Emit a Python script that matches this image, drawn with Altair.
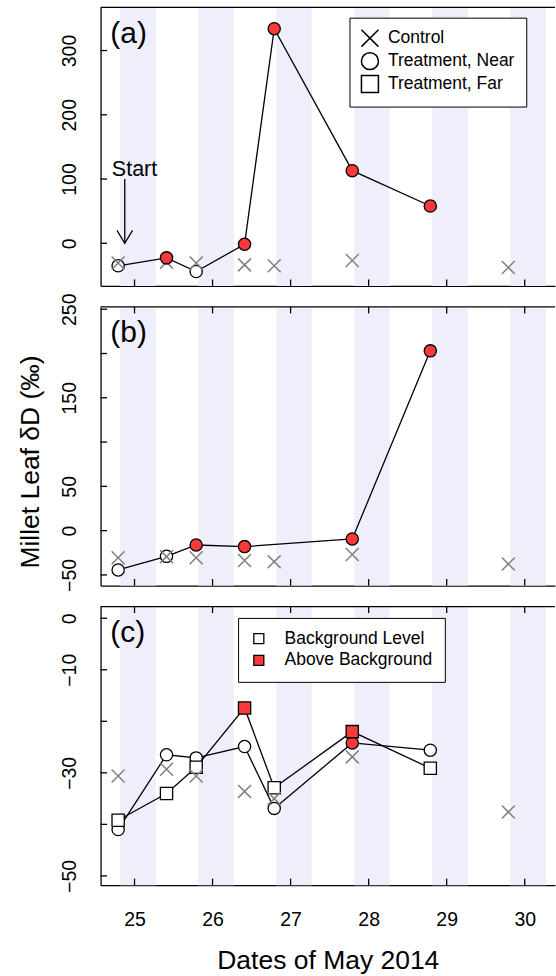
import altair as alt
import pandas as pd

# ---------------- data ----------------
days = [25, 26, 27, 28, 29, 30]
night_start = [24.815, 25.815, 26.815, 27.815, 28.815, 29.815]
night_end = [25.272, 26.272, 27.272, 28.272, 29.272, 30.272]

control_t = [24.79, 25.41, 25.79, 26.41, 26.79, 27.79, 29.79]
control_dD = [-30.6, -29.3, -30.6, -33.6, -35.0, -26.9, -37.6]

a_t = [24.79, 25.41, 25.79, 26.41, 26.79, 27.79, 28.79]
a_near = [-35.0, -22.7, -44.0, -1.5, 334.0, 113.0, 58.0]
a_near_above = [0, 1, 0, 1, 1, 1, 1]

b_t = [24.79, 25.41, 25.79, 26.41, 27.79, 28.79]
b_near = [-44.4, -29.0, -16.2, -18.0, -9.4, 203.0]
b_near_above = [0, 0, 1, 1, 1, 1]

c_t = [24.79, 25.41, 25.79, 26.41, 26.79, 27.79, 28.79]
c_near = [-41.0, -26.5, -27.1, -24.9, -36.9, -24.2, -25.6]
c_near_above = [0, 0, 0, 0, 0, 1, 0]
c_far = [-39.2, -34.0, -28.9, -17.4, -32.9, -22.0, -29.1]
c_far_above = [0, 0, 0, 1, 0, 1, 0]

series_names = ["Control", "Treatment, Near", "Treatment, Far"]
level_names = ["Background Level", "Above Background"]
panel_labels = ["(a)", "(b)", "(c)"]

a_yticks = [0, 100, 200, 300]
b_yticks = [-50, 0, 50, 100, 150, 200, 250]
b_yskip = [100, 200]
c_yticks = [0, -10, -20, -30, -40, -50]
c_yskip = [-20, -40]

start_text = ["Start"]
start_t = [25.0]
start_y = [104.6]
arrow_t = [24.875]
arrow_top = [100.0]
arrow_tip = [0.0]

x_title = "Dates of May 2014"
y_title = "Millet Leaf δD (‰)"

# ---------------- style ----------------
FONT = "Liberation Sans"
W, H = 455, 279
XDOM = [24.565, 30.388]
A_YDOM = [-66.4, 367.3]
B_YDOM = [-62.0, 252.6]
C_YDOM = [-51.8, 2.27]
XPATH = "M-1,-1L1,1M1,-1L-1,1"
ARROWHEAD = "M-0.6,-1L0,0L0.6,-1"
RED = "#F83A3A"
BAND = "#EFEFFC"
GRAY = "#808080"
LW = 1.3

bands_df = pd.DataFrame({"start": night_start, "end": night_end})
days_df = pd.DataFrame({"d": days})
ctrl_df = pd.DataFrame({"t": control_t, "dD": control_dD, "series": "Control"})
frame_df = pd.DataFrame({"k": [0]})


def pts(t, v, above, series):
    return pd.DataFrame({
        "t": t, "dD": v, "series": series,
        "level": [level_names[k] for k in above],
    })


a_df = pts(a_t, a_near, a_near_above, "Treatment, Near")
b_df = pts(b_t, b_near, b_near_above, "Treatment, Near")
c_df = pd.concat([
    pts(c_t, c_near, c_near_above, "Treatment, Near"),
    pts(c_t, c_far, c_far_above, "Treatment, Far"),
])

shape_scale = alt.Scale(domain=series_names, range=[XPATH, "circle", "square"])
fill_scale = alt.Scale(domain=level_names, range=["white", RED])


def make_panel(idx, ydom, yticks, yskip, df, bottom_labels, top_ticks,
               ytitle, shape_legend, fill_legend, extras):
    xs = alt.Scale(domain=XDOM, nice=False, zero=False)
    ys = alt.Scale(domain=ydom, nice=False, zero=False)

    skip = "[" + ",".join(str(s) for s in yskip) + "]"
    yaxis_kw = dict(
        values=yticks, format="d",
        labelExpr=f"indexof({skip}, datum.value) >= 0 ? '' : datum.label",
        labelAngle=270, labelAlign="center", labelBaseline="alphabetic",
        labelPadding=25, labelFontSize=19.5, labelFont=FONT, labelColor="black",
        ticks=False, tickSize=0, domain=True, domainColor="black", domainWidth=LW,
        grid=False, labelOverlap=False,
    )
    if ytitle:
        yaxis_kw.update(title=ytitle, titleFont=FONT, titleFontSize=26.5,
                        titleFontWeight="normal", titleColor="black",
                        titleAngle=270, titleAlign="center",
                        titleBaseline="alphabetic", titleX=-62.6, titleY=154.8)
    else:
        yaxis_kw.update(title=None)
    yaxis = alt.Axis(**yaxis_kw)

    if bottom_labels:
        xaxis = alt.Axis(
            values=days, format="d", labelFontSize=19.5, labelFont=FONT,
            labelColor="black", labelBaseline="alphabetic", labelPadding=40,
            labelFlush=False, labelOverlap=False,
            ticks=False, tickSize=0, domain=True, domainColor="black",
            domainWidth=LW, grid=False,
            title=x_title, titleFont=FONT, titleFontSize=26.5,
            titleFontWeight="normal", titleColor="black",
            titleBaseline="alphabetic", titleY=83)
    else:
        xaxis = alt.Axis(values=days, labels=False, ticks=False, tickSize=0,
                         domain=True, domainColor="black", domainWidth=LW,
                         grid=False, title=None)

    X = lambda f: alt.X(f, scale=xs, axis=xaxis)
    Y = lambda f: alt.Y(f, scale=ys, axis=yaxis)

    bands = alt.Chart(bands_df).mark_rect(color=BAND, strokeWidth=0).encode(
        x=X("start:Q"), x2="end:Q", y=alt.value(0), y2=alt.value(H))

    ctrl = alt.Chart(ctrl_df).mark_point(
        shape=XPATH, size=169, stroke=GRAY, strokeWidth=1.5, filled=False,
        opacity=1).encode(x=X("t:Q"), y=Y("dD:Q"))

    lines = alt.Chart(df).mark_line(color="black", strokeWidth=LW).encode(
        x=X("t:Q"), y=Y("dD:Q"), detail="series:N")

    def markers(level):
        return alt.Chart(df).transform_filter(
            f"datum.level == '{level}'"
        ).mark_point(size=150, stroke="black", strokeWidth=LW, filled=True,
                     opacity=1, fillOpacity=1).encode(
            x=X("t:Q"), y=Y("dD:Q"),
            shape=alt.Shape("series:N", scale=shape_scale, legend=shape_legend),
            fill=alt.Fill("level:N", scale=fill_scale, legend=fill_legend),
        )

    ytick = alt.Chart(pd.DataFrame({"v": yticks})).mark_rule(
        color="black", strokeWidth=LW).encode(
        y=Y("v:Q"), x=alt.value(0), x2=alt.value(6.5))
    xtick_bottom = alt.Chart(days_df).mark_rule(
        color="black", strokeWidth=LW).encode(
        x=X("d:Q"), y=alt.value(H), y2=alt.value(H - 6.5))
    top_frame = alt.Chart(frame_df).mark_rule(
        color="black", strokeWidth=LW).encode(
        x=alt.value(0), x2=alt.value(W), y=alt.value(0))
    label = alt.Chart(pd.DataFrame({"s": [panel_labels[idx]]})).mark_text(
        font=FONT, fontSize=30, color="black", align="left",
        baseline="alphabetic").encode(
        x=alt.value(9.7), y=alt.value(35.5), text="s:N")

    layers = [bands, lines, markers(level_names[0]), ctrl,
              markers(level_names[1])]
    layers += [e(X, Y) for e in extras]
    layers += [ytick, xtick_bottom, top_frame, label]
    if top_ticks:
        layers.append(alt.Chart(days_df).mark_rule(
            color="black", strokeWidth=LW).encode(
            x=X("d:Q"), y=alt.value(0), y2=alt.value(6.5)))

    return alt.layer(*layers).properties(width=W, height=H)


def start_label(X, Y):
    return alt.Chart(pd.DataFrame({"t": start_t, "y": start_y, "s": start_text})).mark_text(
        font=FONT, fontSize=21.5, color="black", align="center",
        baseline="alphabetic").encode(x=X("t:Q"), y=Y("y:Q"), text="s:N")


def arrow_shaft(X, Y):
    return alt.Chart(pd.DataFrame({"t": arrow_t, "y1": arrow_top, "y2": arrow_tip})).mark_rule(
        color="black", strokeWidth=LW).encode(x=X("t:Q"), y=Y("y1:Q"), y2="y2:Q")


def arrow_head(X, Y):
    return alt.Chart(pd.DataFrame({"t": arrow_t, "y": arrow_tip})).mark_point(
        shape=ARROWHEAD, size=676, stroke="black", strokeWidth=LW, filled=False,
        opacity=1).encode(x=X("t:Q"), y=Y("y:Q"))


legend_a = alt.Legend(
    title=None, orient="none", legendX=249.2, legendY=10.4, direction="vertical",
    fillColor="white", strokeColor="black", padding=11, rowPadding=0,
    labelFont=FONT, labelFontSize=17.5, labelColor="black", labelOffset=8.5,
    labelLimit=400, symbolSize=289, symbolStrokeWidth=1.5,
    symbolStrokeColor="black", symbolFillColor="white")

legend_c = alt.Legend(
    title=None, orient="none", legendX=137.7, legendY=11.4, direction="vertical",
    fillColor="white", strokeColor="black", padding=12, rowPadding=2.8,
    labelFont=FONT, labelFontSize=17.5, labelColor="black", labelOffset=17,
    labelLimit=400, symbolSize=100, symbolStrokeWidth=LW,
    symbolStrokeColor="black", symbolType="square")

pa = make_panel(0, A_YDOM, a_yticks, [], a_df, False, False, None,
                legend_a, None, [start_label, arrow_shaft, arrow_head])
pb = make_panel(1, B_YDOM, b_yticks, b_yskip, b_df, False, True, y_title,
                None, None, [])
pc = make_panel(2, C_YDOM, c_yticks, c_yskip, c_df, True, True, None,
                None, legend_c, [])

chart = alt.vconcat(pa, pb, pc, spacing=21, bounds="flush").resolve_scale(
    shape="independent", fill="independent"
).resolve_legend(
    shape="independent", fill="independent"
).properties(
    padding={"left": 16.7, "top": 5.7, "right": 0, "bottom": 0},
    background="white",
).configure_view(stroke="transparent", strokeWidth=0)

chart.save("out.html", embed_options={"renderer": "svg", "actions": False})
